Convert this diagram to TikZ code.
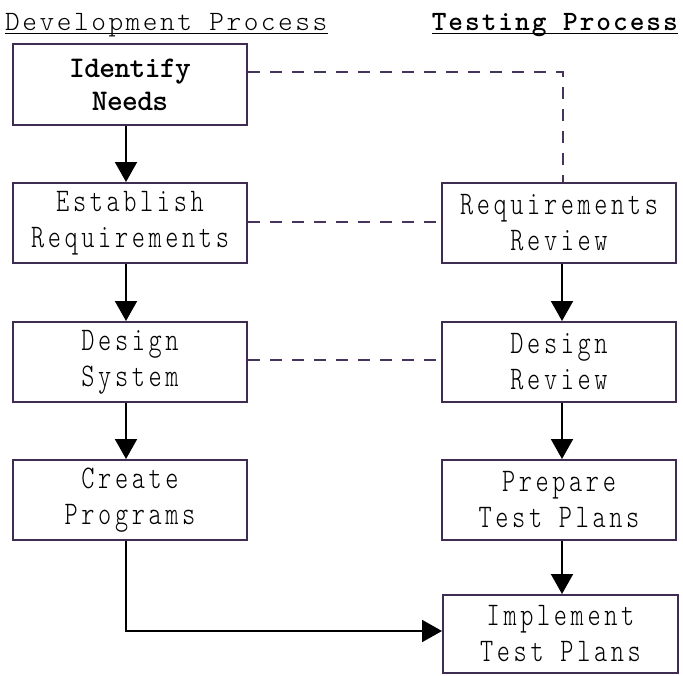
\documentclass[tikz,border=0pt]{standalone}
\usepackage{fontspec}
\usetikzlibrary{arrows.meta}

% thin typewriter faces for labels, bold one for emphasis
\newfontfamily\thinmono{lmmonolt10-regular.otf}[FakeStretch=0.76]
\newfontfamily\lightmono{lmmonolt10-regular.otf}
\newfontfamily\boldmono{lmmonolt10-bold.otf}

\definecolor{frame}{RGB}{62,44,82}
\definecolor{link}{RGB}{70,52,92}

\tikzset{
  stepbox/.style={draw=frame, line width=2pt, fill=white, rectangle,
    minimum width=234pt, minimum height=80pt, align=center, inner sep=0pt,
    font=\thinmono\addfontfeature{LetterSpace=11}\fontsize{33}{36}\selectfont},
  flow/.style={draw=black, line width=2pt,
    -{Triangle[length=20pt,width=22pt]}},
  tie/.style={draw=link, line width=2pt, dash pattern=on 12pt off 10pt},
  heading/.style={inner sep=0pt, anchor=base west},
}

\begin{document}
\begin{tikzpicture}[x=1pt,y=-1pt]
  \useasboundingbox (0,0) rectangle (683,675);

  % column headings
  \node[heading, font=\lightmono\addfontfeature{LetterSpace=9}\fontsize{28}{30}\selectfont] (dev) at (5,30) {Development Process};
  \node[heading, anchor=base east, font=\boldmono\addfontfeature{LetterSpace=7}\fontsize{28}{30}\selectfont] (tst) at (678,30) {Testing Process};
  \draw[line width=1.8pt] ([yshift=-3.5pt]dev.base west) -- ([yshift=-3.5pt]dev.base east);
  \draw[line width=1.8pt] ([yshift=-3.5pt]tst.base west) -- ([yshift=-3.5pt]tst.base east);

  % development steps
  \node[stepbox, minimum height=81pt, font=\boldmono\addfontfeature{LetterSpace=-2}\fontsize{30}{33}\selectfont] (idn) at (130,84.5) {Identify\\Needs};
  \node[stepbox] (est) at (130,223) {Establish\\Requirements};
  \node[stepbox] (des) at (130,362) {Design\\System};
  \node[stepbox] (cre) at (130,500) {Create\\Programs};

  % testing steps
  \node[stepbox] (rr)  at (559,223) {Requirements\\Review};
  \node[stepbox] (dr)  at (559,362) {Design\\Review};
  \node[stepbox] (ptp) at (559,500) {Prepare\\Test Plans};
  \node[stepbox, minimum width=235pt, minimum height=78pt] (itp) at (560.5,634) {Implement\\Test Plans};

  % dashed ties between the two processes
  \coordinate (bend) at (563,72);
  \draw[tie] (idn.east |- bend) -- (bend) -- (bend |- rr.north);
  \draw[tie] ([yshift=1pt]est.east) -- ([yshift=1pt]rr.west);
  \draw[tie] ([yshift=2pt]des.east) -- ([yshift=2pt]dr.west);

  % development flow
  \draw[flow] ([xshift=-4pt]idn.south) -- ([xshift=-4pt]est.north);
  \draw[flow] ([xshift=-4pt]est.south) -- ([xshift=-4pt]des.north);
  \draw[flow] ([xshift=-4pt]des.south) -- ([xshift=-4pt]cre.north);

  % testing flow
  \draw[flow] ([xshift=3pt]rr.south) -- ([xshift=3pt]dr.north);
  \draw[flow] ([xshift=3pt]dr.south) -- ([xshift=3pt]ptp.north);
  \draw[flow] ([xshift=3pt]ptp.south) -- ([xshift=1.5pt]itp.north);

  % programs feed the test run
  \draw[flow] ([xshift=-4pt]cre.south) |- ([yshift=3pt]itp.west);
\end{tikzpicture}
\end{document}
